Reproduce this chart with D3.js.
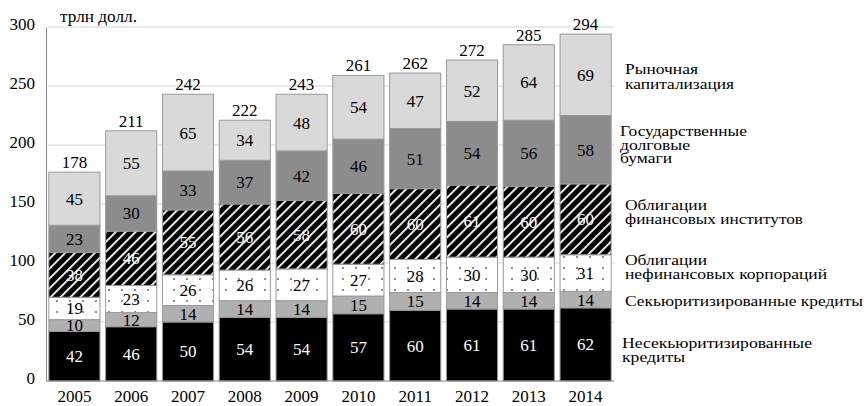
<!DOCTYPE html>
<html><head><meta charset="utf-8">
<script src="https://cdn.jsdelivr.net/npm/d3@7"></script>
</head><body style="margin:0">
<svg id="c" width="866" height="406" font-family="Liberation Serif, Tinos, Times New Roman, serif"></svg>
<script>
const years = ["2005","2006","2007","2008","2009","2010","2011","2012","2013","2014"];
const nonSecLoans = [42,46,50,54,54,57,60,61,61,62];
const secLoans = [10,12,14,14,14,15,15,14,14,14];
const nonFinBonds = [19,23,26,26,27,27,28,30,30,31];
const finBonds = [38,46,55,56,58,60,60,61,60,60];
const govDebt = [23,30,33,37,42,46,51,54,56,58];
const marketCap = [45,55,65,34,48,54,47,52,64,69];
const totals = [178,211,242,222,243,261,262,272,285,294];
const yTicks = [0,50,100,150,200,250,300];
const seriesNames = [
  ["Несекьюритизированные","кредиты"],
  ["Секьюритизированные кредиты"],
  ["Облигации","нефинансовых корпораций"],
  ["Облигации","финансовых институтов"],
  ["Государственные","долговые","бумаги"],
  ["Рыночная","капитализация"]
];
const unitLabel = "трлн долл.";

// layout (not data)
const series = [nonSecLoans, secLoans, nonFinBonds, finBonds, govDebt, marketCap];
const fills = ["#000","#b0b0b0","url(#dots)","url(#hatch)","#8c8c8c","#d9d9d9"];
const textFill = ["#fff","#000","#000","#fff","#000","#000"];
const legendPos = [{x:622,y:343},{x:625,y:301},{x:625,y:260},{x:625,y:205},{x:620,y:131},{x:625,y:69}];
const lineGap = [14,0,13.5,13.5,13.5,15];
const legendWidths = [[190,63],[238],[82,202],[82,178],[127,70,52],[73,109]];

const svg = d3.select("#c");
const ff = t => t.attr("font-family","Liberation Serif, serif").style("font-family", d => '"Liberation Serif", serif');
const defs = svg.append("defs");
const hp = defs.append("pattern").attr("id","hatch").attr("patternUnits","userSpaceOnUse")
  .attr("width",7).attr("height",7).attr("patternTransform","rotate(45)");
hp.append("rect").attr("width",7).attr("height",7).attr("fill","#000");
hp.append("rect").attr("x",0).attr("y",0).attr("width",1.8).attr("height",7).attr("fill","#fff");
const dp = defs.append("pattern").attr("id","dots").attr("patternUnits","userSpaceOnUse")
  .attr("width",13).attr("height",11).attr("x",3).attr("y",2);
dp.append("rect").attr("width",13).attr("height",11).attr("fill","#fff");
dp.append("circle").attr("cx",2).attr("cy",2).attr("r",0.8).attr("fill","#000");

const x = d3.scaleBand().domain(years).range([46,614]).paddingInner(0.1).paddingOuter(0.05);
const y = d3.scaleLinear().domain([0,300]).range([381,27]);

// grid
svg.append("g").selectAll("line").data(yTicks.filter(d=>d>0)).join("line")
  .attr("x1",48).attr("x2",614).attr("y1",d=>y(d)).attr("y2",d=>y(d))
  .attr("stroke","#d4d4d4").attr("stroke-width",1);

// stacks
const rows = years.map((yr,i)=>{const o={year:yr}; series.forEach((s,k)=>o["s"+k]=s[i]); return o;});
const stack = d3.stack().keys(series.map((s,k)=>"s"+k))(rows);
const g = svg.append("g");
stack.forEach((layer,k)=>{
  g.append("g").selectAll("rect").data(layer).join("rect")
    .attr("x",d=>x(d.data.year)).attr("width",x.bandwidth())
    .attr("y",d=>y(d[1])).attr("height",d=>y(d[0])-y(d[1]))
    .attr("fill",fills[k]).attr("stroke","#999").attr("stroke-width",1);
});
stack.forEach((layer,k)=>{
  g.append("g").selectAll("text").data(layer).join("text")
    .attr("x",d=>x(d.data.year)+x.bandwidth()/2).attr("y",d=>(y(d[0])+y(d[1]))/2)
    .attr("dy","0.35em").attr("text-anchor","middle").attr("font-size",17)
    .call(ff)
    .attr("fill",textFill[k]).text(d=>d[1]-d[0]);
});
// totals
const topLayer = stack[stack.length-1];
svg.append("g").selectAll("text").data(topLayer).join("text")
  .attr("x",d=>x(d.data.year)+x.bandwidth()/2).attr("y",d=>y(d[1])-4)
  .attr("text-anchor","middle").attr("font-size",17).attr("fill","#000")
  .call(ff)
  .text((d,i)=>totals[i]);

// axes
const ya = svg.append("g").attr("transform","translate(46,0)")
  .call(d3.axisLeft(y).tickValues(yTicks).tickSize(0).tickPadding(11));
ya.attr("font-family",null);
ya.select(".domain").attr("stroke","#888");
ya.selectAll("text").attr("font-size",17).attr("fill","#000").call(ff).attr("dy","0.15em");
const xa = svg.append("g").attr("transform","translate(0,381)")
  .call(d3.axisBottom(x).tickSize(0).tickPadding(9));
xa.attr("font-family",null);
xa.select(".domain").attr("stroke","#888").attr("d","M46,0H614");
xa.selectAll("text").attr("font-size",17).attr("fill","#000").call(ff);

svg.append("text").attr("x",60).attr("y",22).attr("font-size",16).call(ff)
  .attr("textLength",77).attr("lengthAdjust","spacingAndGlyphs").text(unitLabel);

// legend
seriesNames.forEach((lines,k)=>{
  const t = svg.append("text").attr("font-size",14.5).call(ff);
  lines.forEach((ln,j)=>t.append("tspan").attr("x",legendPos[k].x).attr("y",legendPos[k].y+j*lineGap[k])
    .attr("dy","0.35em").attr("textLength",legendWidths[k][j]).attr("lengthAdjust","spacingAndGlyphs").text(ln));
});
</script></body></html>
